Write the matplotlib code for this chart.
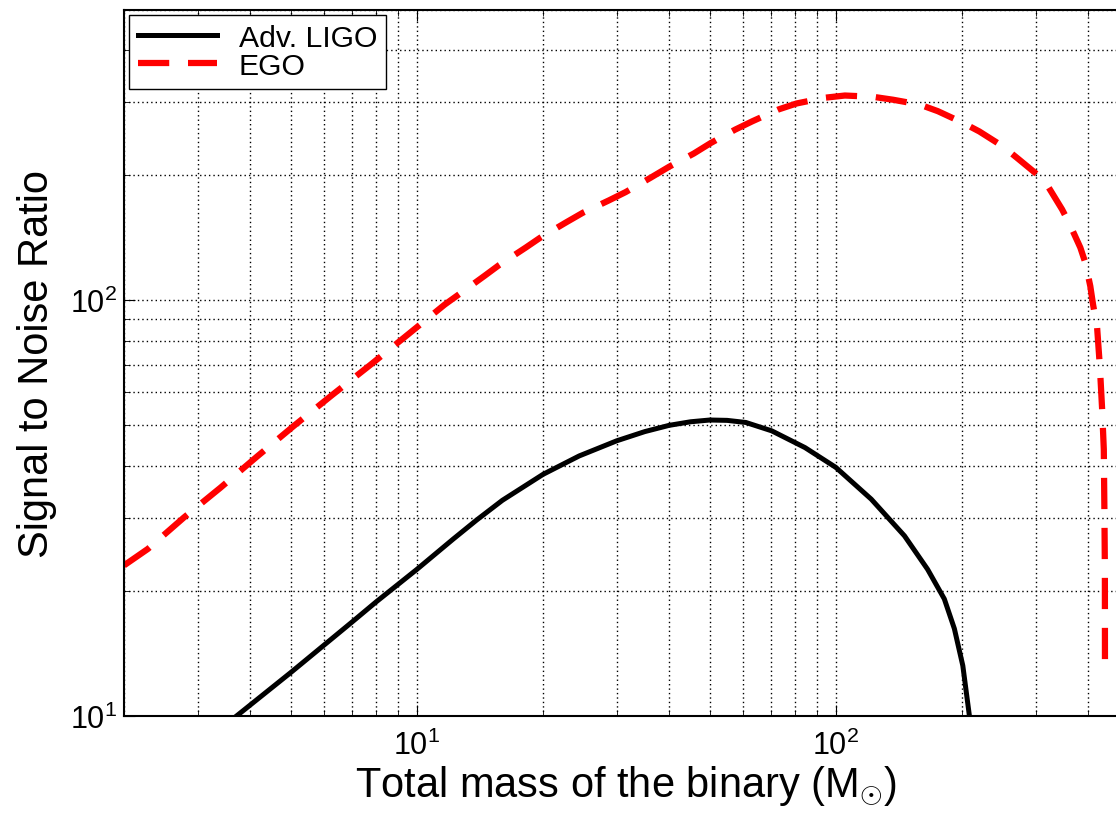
import matplotlib
matplotlib.use("Agg")
import matplotlib.pyplot as plt

plt.rcParams["font.family"] = ["Liberation Sans", "DejaVu Sans"]
plt.rcParams["mathtext.fontset"] = "custom"
plt.rcParams["mathtext.rm"] = "Liberation Sans"
plt.rcParams["mathtext.it"] = "Liberation Sans:italic"
plt.rcParams["mathtext.bf"] = "Liberation Sans:bold"

# total mass (solar masses) and SNR for each detector
ligo_mass = [3.72, 5.0, 7.0, 8.0, 10, 12.2, 13.9, 16.0, 20.0, 24.4, 30, 35,
             40, 45, 50, 55, 61, 70.3, 84.4, 100, 121.5, 145.8, 165.6, 181.5,
             191.8, 200.9, 208.3]
ligo_snr = [10, 12.7, 16.8, 18.8, 22.5, 26.6, 29.6, 33.0, 38.1, 42.2, 45.9,
            48.3, 50.0, 51.0, 51.5, 51.4, 50.8, 48.5, 44.2, 39.6, 33.2, 27.1,
            22.5, 19.1, 16.2, 13.2, 10]

ego_mass = [2.0, 2.28, 2.78, 3.40, 4.16, 5.08, 6.27, 7.73, 9.53, 11.66, 13.1,
            14.5, 15.7, 18.2, 19.7, 22.7, 24.9, 28.8, 31.5, 36.1, 40, 45.8,
            50.3, 57.5, 63.2, 72.9, 80.6, 94.1, 105.1, 122.7, 137, 158.5,
            175.2, 200.9, 220, 250, 271, 302.5, 322.4, 346.7, 361.6, 383.3,
            393.9, 404.8, 411, 420.3, 426.6, 432, 436, 437.5, 438.6, 438.8]
ego_snr = [23.0, 25.2, 30.0, 35.4, 42.1, 49.8, 59.1, 69.8, 82.8, 97.7, 106.3,
           114.5, 121.5, 134, 141.5, 154, 162.5, 174.2, 182.2, 197.2, 209.7,
           225.6, 239.2, 257.6, 269.8, 288, 297.8, 307.4, 311.2, 309, 304,
           296, 285.3, 267.6, 255, 235, 220, 200.8, 186.6, 165.5, 152.4,
           133.9, 123.2, 108.2, 97.7, 85.9, 69.5, 54.7, 43.8, 30.8, 22.3,
           13.3]

fig = plt.figure(figsize=(11.16, 8.2), dpi=100)
ax = fig.add_axes([0.1111, 0.126, 0.9003, 0.8606])

ax.plot(ligo_mass, ligo_snr, color="black", lw=3.6, label="Adv. LIGO",
        solid_joinstyle="round")
ax.plot(ego_mass, ego_snr, color="red", lw=4.5, dashes=(5, 3),
        label="EGO")

ax.set_xscale("log")
ax.set_yscale("log")
ax.set_xlim(2, 500)
ax.set_ylim(10, 500)

ax.grid(True, which="both", color="black", linestyle=(0, (1, 2.2)), lw=1.0)
ax.tick_params(which="both", direction="in", top=True, right=True,
               labelsize=22)
ax.tick_params(axis="x", pad=10)
ax.tick_params(axis="y", pad=5)
ax.tick_params(which="major", length=8, width=0.8)
ax.tick_params(which="minor", length=4, width=0.6)
for s in ax.spines.values():
    s.set_linewidth(1.5)

ax.set_xlabel(r"Total mass of the binary (M$_{\odot}$)", fontsize=30,
              labelpad=2)
ax.set_ylabel("Signal to Noise Ratio", fontsize=30, labelpad=9.5)

leg = ax.legend(loc="upper left", fontsize=21.7, handlelength=2.65,
                fancybox=False, framealpha=1, edgecolor="black",
                borderaxespad=0.15, borderpad=0.3, labelspacing=0.0,
                handletextpad=0.7)
leg.get_frame().set_linewidth(1.0)

fig.savefig("out.png", dpi=100)
